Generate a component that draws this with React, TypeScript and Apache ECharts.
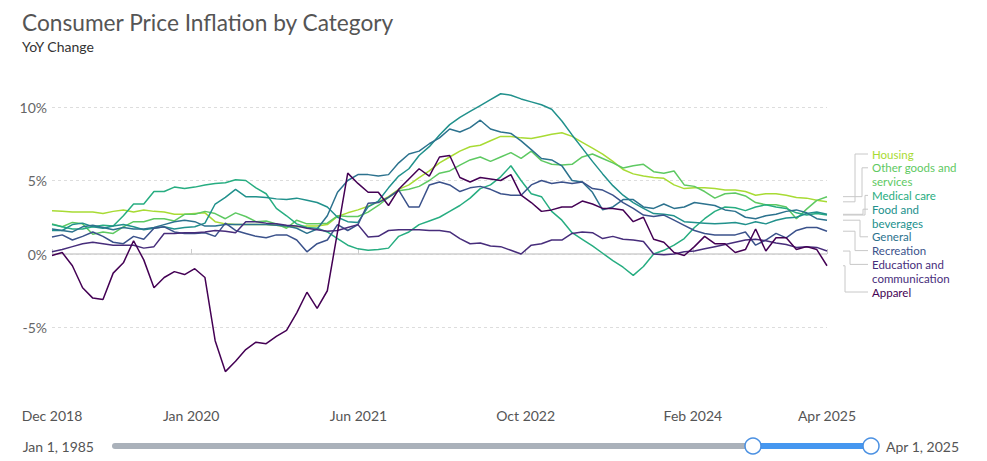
import React, { useEffect, useRef } from "react";
import * as echarts from "echarts";

// Monthly YoY % change, Dec 2018 .. Apr 2025 (77 months)
const housing = [
  2.95, 2.9, 2.85, 2.85, 2.85, 2.75, 2.9, 3.0, 2.85, 3.0,
  2.9, 2.85, 2.7, 2.7, 2.75, 2.8, 2.2, 2.05, 2.0, 2.0,
  2.0, 2.0, 1.95, 1.85, 1.85, 1.9, 1.9, 2.0, 2.55, 2.8,
  3.0, 3.25, 3.55, 3.9, 4.4, 4.7, 5.2, 5.65, 6.2, 6.6,
  7.0, 7.3, 7.4, 7.7, 8.0, 8.0, 7.9, 7.85, 8.0, 8.15,
  8.25, 8.0, 7.6, 7.2, 6.8, 6.3, 5.75, 5.45, 5.3, 5.2,
  5.15, 4.7, 4.45, 4.5, 4.5, 4.45, 4.35, 4.35, 4.25, 4.0,
  4.1, 4.1, 4.0, 3.85, 3.8, 3.65, 3.55,
];
const otherGoods = [
  2.05, 1.85, 2.15, 2.05, 1.35, 1.5, 1.4, 1.85, 2.2, 2.2,
  2.4, 2.4, 2.25, 2.7, 2.7, 2.9, 2.75, 2.4, 2.8, 2.55,
  2.2, 2.25, 2.05, 1.75, 2.3, 2.05, 2.05, 2.1, 2.6, 2.55,
  2.55, 2.85, 3.3, 3.85, 4.3, 4.4, 4.6, 5.0, 5.5, 5.65,
  6.05, 6.4, 6.6, 6.3, 6.6, 6.9, 6.5, 7.0, 6.35, 6.1,
  6.05, 6.1, 6.6, 6.8, 6.5, 6.2, 5.85, 6.0, 6.1, 5.6,
  5.5, 5.65, 4.7, 4.6, 4.25, 3.8, 4.1, 4.15, 3.95, 3.5,
  3.35, 3.35, 3.2, 2.4, 3.05, 3.65, 3.9,
];
const medicalCare = [
  2.0, 1.85, 1.7, 1.7, 1.85, 1.95, 1.9, 2.6, 3.4, 3.4,
  4.25, 4.25, 4.55, 4.45, 4.55, 4.7, 4.8, 4.85, 5.05, 5.0,
  4.5, 4.1, 3.1, 2.6, 2.05, 1.8, 1.75, 1.5, 1.05, 0.6,
  0.35, 0.25, 0.3, 0.4, 1.2, 1.5, 2.0, 2.25, 2.5, 2.9,
  3.3, 3.8, 4.45, 4.7, 5.25, 6.0, 5.0, 4.1, 3.9, 2.9,
  2.3, 1.45, 1.0, 0.55, 0.05, -0.45, -0.9, -1.45, -0.85, 0.0,
  0.25, 0.6, 1.05, 1.8, 2.4, 2.9, 3.2, 3.15, 2.95, 3.2,
  3.35, 3.2, 3.1, 2.8, 2.65, 2.75, 2.65,
];
const foodBeverages = [
  1.6, 1.6, 2.0, 2.1, 1.85, 1.75, 1.9, 2.0, 1.85, 1.65,
  1.75, 1.85, 1.7, 1.8, 1.85, 2.1, 3.4, 3.85, 4.4, 3.9,
  3.9, 3.85, 3.75, 3.7, 3.8, 3.65, 3.5, 3.2, 2.5, 2.2,
  2.15, 3.2, 3.6, 4.5, 5.3, 5.8, 6.7, 7.3, 8.1, 8.8,
  9.3, 9.7, 10.1, 10.5, 10.9, 10.8, 10.55, 10.35, 10.15, 9.85,
  9.05, 8.1, 7.2, 6.3, 5.45, 4.65, 4.0, 3.5, 3.1, 2.75,
  2.7, 2.6, 2.2, 2.15, 2.1, 2.05, 2.1, 2.15, 2.0, 2.2,
  2.05, 2.3, 2.45, 2.5, 2.75, 2.85, 2.7,
];
const general = [
  1.7, 1.6, 1.5, 1.85, 1.95, 1.8, 1.65, 1.8, 1.7, 1.7,
  1.8, 2.0, 2.2, 2.3, 2.2, 1.9, 1.9, 2.0, 2.0, 2.0,
  2.0, 2.0, 1.95, 1.9, 1.75, 1.4, 1.7, 2.6, 4.2, 5.0,
  5.4, 5.4, 5.3, 5.4, 6.2, 6.8, 7.0, 7.5, 7.9, 8.5,
  8.3, 8.6, 9.1, 8.5, 8.3, 8.2, 7.7, 7.1, 6.5, 6.4,
  6.0, 5.0, 4.9, 4.2, 3.0, 3.2, 3.7, 3.7, 3.2, 3.1,
  3.4, 3.1, 3.2, 3.5, 3.4, 3.3, 3.0, 2.9, 2.5, 2.4,
  2.6, 2.7, 2.9, 3.0, 2.8, 2.4, 2.3,
];
const recreation = [
  1.15, 1.3, 0.95, 1.2, 1.5, 1.2, 0.8, 0.7, 1.2, 1.0,
  1.75, 1.85, 1.5, 1.4, 1.4, 1.45, 1.2, 2.1, 1.6, 1.4,
  1.2, 1.1, 1.3, 1.3, 0.95, 0.15, 0.7, 0.95, 2.0, 1.6,
  2.0, 3.45, 3.5, 3.85, 4.35, 3.2, 3.2, 4.7, 4.9, 4.7,
  4.25, 4.5, 4.6, 4.4, 4.1, 4.0, 4.0, 4.7, 5.0, 4.8,
  4.9, 4.8, 4.9, 4.45, 4.35, 4.0, 3.5, 3.1, 2.65, 2.55,
  2.65, 2.3, 1.95, 1.6, 1.4, 1.3, 1.3, 1.3, 1.5, 0.6,
  0.95, 1.4, 1.1, 1.6, 1.8, 1.8, 1.55,
];
const educationComm = [
  0.15, 0.3, 0.5, 0.7, 0.8, 0.7, 0.6, 0.6, 0.6, 0.4,
  0.5, 1.4, 1.4, 1.45, 1.45, 1.5, 1.6, 1.55, 1.45, 2.2,
  2.2, 2.1, 2.05, 1.95, 1.9, 1.75, 1.65, 1.55, 1.6, 1.8,
  2.0, 1.15, 1.2, 1.6, 1.65, 1.65, 1.65, 1.6, 1.6, 1.5,
  1.05, 0.7, 0.75, 0.55, 0.5, 0.25, 0.0, 0.6, 0.7, 0.95,
  0.95, 1.4, 1.5, 1.45, 1.05, 1.2, 1.0, 0.95, 0.85, 0.0,
  -0.05, 0.0, 0.15, 0.2, 0.35, 0.5, 0.65, 0.8, 0.95, 1.0,
  0.9, 0.75, 0.65, 0.45, 0.5, 0.45, 0.2,
];
const apparel = [
  -0.1, 0.1, -0.8, -2.3, -3.0, -3.1, -1.3, -0.6, 0.9, -0.4,
  -2.3, -1.6, -1.2, -1.4, -1.0, -1.6, -5.9, -8.0, -7.3, -6.5,
  -6.0, -6.1, -5.6, -5.2, -4.0, -2.6, -3.7, -2.5, 1.5, 5.5,
  4.8, 4.2, 4.2, 3.3, 4.4, 5.1, 5.8, 5.3, 6.6, 6.7,
  5.2, 4.9, 5.2, 5.1, 5.0, 5.4, 4.0, 3.5, 2.9, 3.0,
  3.2, 3.2, 3.6, 3.4, 3.1, 3.1, 3.0, 2.2, 2.5, 1.0,
  0.8, 0.1, -0.1, 0.5, 1.2, 0.7, 0.7, 0.1, 0.3, 1.7,
  0.2, 1.1, 1.1, 0.3, 0.5, 0.3, -0.8,
];

const seriesNames = [
  "Housing",
  "Other goods and services",
  "Medical care",
  "Food and beverages",
  "General",
  "Recreation",
  "Education and communication",
  "Apparel",
];
// legend labels, each line of a wrapped label as its own entry
const legendLines = [
  ["Housing"],
  ["Other goods and", "services"],
  ["Medical care"],
  ["Food and", "beverages"],
  ["General"],
  ["Recreation"],
  ["Education and", "communication"],
  ["Apparel"],
];
const seriesColors = [
  "#a8db34",
  "#5ec962",
  "#27ad81",
  "#21918c",
  "#2c728e",
  "#3b528b",
  "#472d7b",
  "#440154",
];

// x axis: month offsets from Dec 2018 where ticks sit, and their labels
const tickValues = [0, 13.65, 30.05, 46.45, 62.85, 76];
const tickLabels = ["Dec 2018", "Jan 2020", "Jun 2021", "Oct 2022", "Feb 2024", "Apr 2025"];

const rangeStartLabel = "Jan 1, 1985";
const rangeEndLabel = "Apr 1, 2025";

const titleText = "Consumer Price Inflation by Category";
const subtitleText = "YoY Change";

export default function App() {
  const ref = useRef<HTMLDivElement>(null);

  useEffect(() => {
    if (!ref.current) return;
    const chart = echarts.init(ref.current, null, { renderer: "svg" });
    const allData = [housing, otherGoods, medicalCare, foodBeverages, general, recreation, educationComm, apparel];

    const series: any[] = allData.map((arr, k) => ({
      name: seriesNames[k],
      type: "line",
      data: arr.map((v, i) => [i, v]),
      showSymbol: false,
      symbol: "none",
      lineStyle: { width: 1.5, color: seriesColors[k] },
      itemStyle: { color: seriesColors[k] },
      z: 10 + k,
      silent: true,
    }));
    series[0].markLine = {
      silent: true,
      symbol: ["none", "none"],
      label: { show: false },
      lineStyle: { color: "#cfcfcf", width: 1.5, type: "solid" },
      data: [{ yAxis: 0 }],
      z: 1,
    };

    chart.setOption({
      animation: false,
      textStyle: { fontFamily: "Lato" },
      grid: { left: 52, right: 160, top: 33.5, bottom: 60 },
      xAxis: {
        type: "value",
        min: 0,
        max: 76,
        axisLine: { show: false },
        axisTick: {
          show: true,
          inside: true,
          length: 5,
          lineStyle: { color: "#cccccc" },
          customValues: tickValues,
        },
        axisLabel: {
          customValues: tickValues,
          formatter: (v: number) => {
            const idx = tickValues.findIndex((t) => Math.abs(t - v) < 0.01);
            return idx >= 0 ? tickLabels[idx] : "";
          },
          color: "#555",
          fontSize: 14,
          fontFamily: "Lato",
          margin: 7,
        },
        splitLine: { show: false },
      },
      yAxis: {
        type: "value",
        min: -10,
        max: 15,
        interval: 5,
        axisLine: { show: false },
        axisTick: { show: false },
        axisLabel: {
          formatter: (v: number) => (v <= -10 || v >= 15 ? "" : v + "%"),
          color: "#666",
          fontSize: 14,
          fontFamily: "Lato",
          margin: 5,
        },
        splitLine: {
          show: true,
          showMinLine: false,
          showMaxLine: false,
          lineStyle: { color: "#dddddd", type: [3, 3], width: 1 },
        },
      },
      series,
    });

    const lineGap = 13.8;
    const firstLabelY = 154;
    const xMid = [855, 862, 865, 863, 860, 855, 850, 845];
    const graphics: any[] = [];

    let row = 0;
    allData.forEach((arr, k) => {
      const last = arr.length - 1;
      const p = chart.convertToPixel({ gridIndex: 0 }, [last, arr[last]]) as number[];
      const ey = p[1];
      const ly = firstLabelY + row * lineGap;
      graphics.push({
        type: "polyline",
        silent: true,
        shape: { points: [[843, ey], [xMid[k], ey], [xMid[k], ly], [868, ly]] },
        style: { stroke: "#c8c8c8", lineWidth: 1, fill: "none" },
      });
      legendLines[k].forEach((line, j) => {
        graphics.push({
          type: "text",
          x: 872,
          y: ly + j * lineGap,
          silent: true,
          style: {
            text: line,
            fill: seriesColors[k],
            fontSize: 11.5,
            fontFamily: "Lato",
            verticalAlign: "middle",
          },
        });
      });
      row += legendLines[k].length;
    });

    graphics.push({
      type: "text",
      x: 22,
      y: 22,
      style: { text: titleText, fill: "#555", fontSize: 22.7, fontFamily: "Lato", verticalAlign: "middle" },
    });
    graphics.push({
      type: "text",
      x: 22,
      y: 46,
      style: { text: subtitleText, fill: "#333", fontSize: 14, fontFamily: "Lato", verticalAlign: "middle" },
    });

    // range slider decoration
    graphics.push({
      type: "rect",
      shape: { x: 112, y: 443, width: 642, height: 6, r: 3 },
      style: { fill: "#aab1ba" },
    });
    graphics.push({
      type: "rect",
      shape: { x: 753, y: 443, width: 118, height: 6 },
      style: { fill: "#4597f0" },
    });
    graphics.push({
      type: "circle",
      shape: { cx: 753, cy: 446, r: 8 },
      style: { fill: "#ffffff", stroke: "#4a90e2", lineWidth: 1.5 },
    });
    graphics.push({
      type: "circle",
      shape: { cx: 871, cy: 446, r: 8 },
      style: { fill: "#ffffff", stroke: "#4a90e2", lineWidth: 1.5 },
    });
    graphics.push({
      type: "text",
      x: 94,
      y: 446,
      style: { text: rangeStartLabel, fill: "#555", fontSize: 14, fontFamily: "Lato", align: "right", verticalAlign: "middle" },
    });
    graphics.push({
      type: "text",
      x: 886,
      y: 446,
      style: { text: rangeEndLabel, fill: "#555", fontSize: 14, fontFamily: "Lato", align: "left", verticalAlign: "middle" },
    });

    chart.setOption({ graphic: graphics });

    return () => {
      chart.dispose();
    };
  }, []);

  return (
    <div
      ref={ref}
      style={{ position: "fixed", left: 0, top: 0, width: "987px", height: "461px", background: "#fff" }}
    />
  );
}
